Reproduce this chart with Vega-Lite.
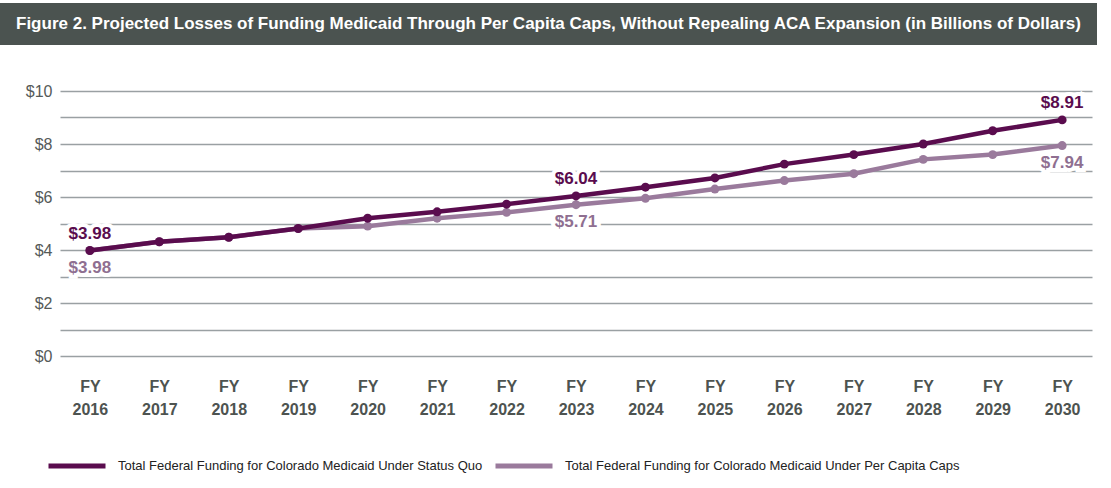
{
  "$schema": "https://vega.github.io/schema/vega-lite/v6.json",
  "padding": {"left": 0, "top": 3, "right": 0, "bottom": 0},
  "background": "white",
  "bounds": "flush",
  "spacing": 46,
  "config": {
    "font": "Liberation Sans",
    "view": {"stroke": null}
  },
  "datasets": {
    "header": [{"t": "Figure 2. Projected Losses of Funding Medicaid Through Per Capita Caps, Without Repealing ACA Expansion (in Billions of Dollars)"}],
    "funding": [
      {"year": "2016", "series": "Total Federal Funding for Colorado Medicaid Under Status Quo", "value": 3.98, "label": "$3.98"},
      {"year": "2017", "series": "Total Federal Funding for Colorado Medicaid Under Status Quo", "value": 4.31},
      {"year": "2018", "series": "Total Federal Funding for Colorado Medicaid Under Status Quo", "value": 4.48},
      {"year": "2019", "series": "Total Federal Funding for Colorado Medicaid Under Status Quo", "value": 4.81},
      {"year": "2020", "series": "Total Federal Funding for Colorado Medicaid Under Status Quo", "value": 5.2},
      {"year": "2021", "series": "Total Federal Funding for Colorado Medicaid Under Status Quo", "value": 5.44},
      {"year": "2022", "series": "Total Federal Funding for Colorado Medicaid Under Status Quo", "value": 5.73},
      {"year": "2023", "series": "Total Federal Funding for Colorado Medicaid Under Status Quo", "value": 6.04, "label": "$6.04"},
      {"year": "2024", "series": "Total Federal Funding for Colorado Medicaid Under Status Quo", "value": 6.37},
      {"year": "2025", "series": "Total Federal Funding for Colorado Medicaid Under Status Quo", "value": 6.72},
      {"year": "2026", "series": "Total Federal Funding for Colorado Medicaid Under Status Quo", "value": 7.24},
      {"year": "2027", "series": "Total Federal Funding for Colorado Medicaid Under Status Quo", "value": 7.6},
      {"year": "2028", "series": "Total Federal Funding for Colorado Medicaid Under Status Quo", "value": 8.0},
      {"year": "2029", "series": "Total Federal Funding for Colorado Medicaid Under Status Quo", "value": 8.5},
      {"year": "2030", "series": "Total Federal Funding for Colorado Medicaid Under Status Quo", "value": 8.91, "label": "$8.91"},
      {"year": "2016", "series": "Total Federal Funding for Colorado Medicaid Under Per Capita Caps", "value": 3.98, "label": "$3.98"},
      {"year": "2017", "series": "Total Federal Funding for Colorado Medicaid Under Per Capita Caps", "value": 4.31},
      {"year": "2018", "series": "Total Federal Funding for Colorado Medicaid Under Per Capita Caps", "value": 4.48},
      {"year": "2019", "series": "Total Federal Funding for Colorado Medicaid Under Per Capita Caps", "value": 4.81},
      {"year": "2020", "series": "Total Federal Funding for Colorado Medicaid Under Per Capita Caps", "value": 4.9},
      {"year": "2021", "series": "Total Federal Funding for Colorado Medicaid Under Per Capita Caps", "value": 5.2},
      {"year": "2022", "series": "Total Federal Funding for Colorado Medicaid Under Per Capita Caps", "value": 5.42},
      {"year": "2023", "series": "Total Federal Funding for Colorado Medicaid Under Per Capita Caps", "value": 5.71, "label": "$5.71"},
      {"year": "2024", "series": "Total Federal Funding for Colorado Medicaid Under Per Capita Caps", "value": 5.95},
      {"year": "2025", "series": "Total Federal Funding for Colorado Medicaid Under Per Capita Caps", "value": 6.3},
      {"year": "2026", "series": "Total Federal Funding for Colorado Medicaid Under Per Capita Caps", "value": 6.62},
      {"year": "2027", "series": "Total Federal Funding for Colorado Medicaid Under Per Capita Caps", "value": 6.88},
      {"year": "2028", "series": "Total Federal Funding for Colorado Medicaid Under Per Capita Caps", "value": 7.42},
      {"year": "2029", "series": "Total Federal Funding for Colorado Medicaid Under Per Capita Caps", "value": 7.6},
      {"year": "2030", "series": "Total Federal Funding for Colorado Medicaid Under Per Capita Caps", "value": 7.94, "label": "$7.94"}
    ]
  },
  "vconcat": [
    {
      "width": 1097,
      "height": 42,
      "view": {"fill": "#4b5350", "stroke": null},
      "data": {"name": "header"},
      "mark": {"type": "text", "color": "white", "fontSize": 17, "fontWeight": "bold", "align": "center", "baseline": "middle"},
      "encoding": {"text": {"field": "t", "type": "nominal"}}
    },
    {
      "width": 1092,
      "height": 265,
      "data": {"name": "funding"},
      "encoding": {
        "x": {
          "field": "year", "type": "ordinal", "sort": null,
          "scale": {"type": "point", "padding": 0.43, "range": [60, 1092]},
          "axis": {
            "title": null, "domain": false, "ticks": false, "labelAngle": 0,
            "labelExpr": "['FY', datum.value]",
            "labelFontSize": 16, "labelFontWeight": "bold", "labelColor": "#4d5350",
            "labelPadding": 22, "labelLineHeight": 23, "labelBaseline": "top"
          }
        },
        "y": {
          "field": "value", "type": "quantitative",
          "scale": {"domain": [0, 10], "nice": false},
          "axis": {
            "title": null, "domain": false, "ticks": false, "offset": -60,
            "values": [0, 1, 2, 3, 4, 5, 6, 7, 8, 9, 10],
            "labelExpr": "datum.value % 2 == 0 ? '$' + datum.value : ''",
            "labelFontSize": 16, "labelColor": "#555a58", "labelPadding": 8,
            "gridColor": "#9aa0a3", "gridWidth": 1.5
          }
        },
        "color": {
          "field": "series", "type": "nominal",
          "scale": {
            "domain": ["Total Federal Funding for Colorado Medicaid Under Status Quo", "Total Federal Funding for Colorado Medicaid Under Per Capita Caps"],
            "range": ["#5a0c4e", "#9a7a9c"]
          },
          "legend": {
            "title": null, "orient": "none", "direction": "horizontal",
            "legendX": 46, "legendY": 432,
            "symbolType": "stroke", "symbolSize": 3249, "symbolStrokeWidth": 5,
            "labelFontSize": 13, "labelColor": "#222222", "labelLimit": 600,
            "columnPadding": 2, "labelOffset": 10
          }
        }
      },
      "layer": [
        {
          "transform": [{"filter": "datum.series == 'Total Federal Funding for Colorado Medicaid Under Per Capita Caps'"}],
          "mark": {"type": "line", "strokeWidth": 4.5, "point": {"size": 80, "filled": true, "opacity": 1}}
        },
        {
          "transform": [{"filter": "datum.series == 'Total Federal Funding for Colorado Medicaid Under Status Quo'"}],
          "mark": {"type": "line", "strokeWidth": 4.5, "point": {"size": 80, "filled": true, "opacity": 1}}
        },
        {
          "transform": [{"filter": "datum.label != null && datum.series == 'Total Federal Funding for Colorado Medicaid Under Status Quo'"}],
          "mark": {"type": "text", "dy": -17, "fontSize": 17, "fontWeight": "bold", "stroke": "white", "strokeWidth": 8, "fill": "white"},
          "encoding": {"text": {"field": "label"}, "color": {"value": "white"}}
        },
        {
          "transform": [{"filter": "datum.label != null && datum.series == 'Total Federal Funding for Colorado Medicaid Under Per Capita Caps'"}],
          "mark": {"type": "text", "dy": 17, "fontSize": 17, "fontWeight": "bold", "stroke": "white", "strokeWidth": 8, "fill": "white"},
          "encoding": {"text": {"field": "label"}, "color": {"value": "white"}}
        },
        {
          "transform": [{"filter": "datum.label != null && datum.series == 'Total Federal Funding for Colorado Medicaid Under Status Quo'"}],
          "mark": {"type": "text", "dy": -17, "fontSize": 17, "fontWeight": "bold"},
          "encoding": {"text": {"field": "label"}, "color": {"value": "#5a0c4e"}}
        },
        {
          "transform": [{"filter": "datum.label != null && datum.series == 'Total Federal Funding for Colorado Medicaid Under Per Capita Caps'"}],
          "mark": {"type": "text", "dy": 17, "fontSize": 17, "fontWeight": "bold"},
          "encoding": {"text": {"field": "label"}, "color": {"value": "#8f6f91"}}
        }
      ]
    }
  ]
}
